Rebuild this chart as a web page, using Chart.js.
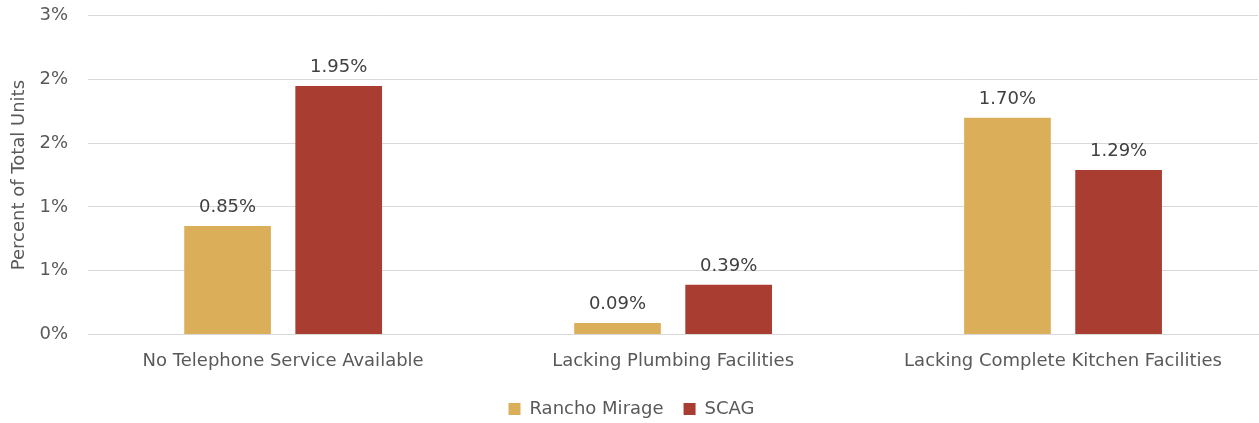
<!DOCTYPE html>
<html>
<head>
<meta charset="utf-8">
<script src="https://cdn.jsdelivr.net/npm/chart.js@4"></script>
<style>
  body { margin: 0; background: #fff; }
  #wrap { width: 1259px; height: 423px; }
</style>
</head>
<body>
<div id="wrap"><canvas id="chart"></canvas></div>
<script>
const categories = ['No Telephone Service Available', 'Lacking Plumbing Facilities', 'Lacking Complete Kitchen Facilities'];
const ranchoMirage = [0.85, 0.09, 1.70];
const scag = [1.95, 0.39, 1.29];
const tickLabels = ['0%', '1%', '1%', '2%', '2%', '3%'];

const textGray = '#595959';
const fontFamily = '"DejaVu Sans", sans-serif';

// draws the value above each bar
const valueLabels = {
  id: 'valueLabels',
  afterDatasetsDraw(chart) {
    const ctx = chart.ctx;
    ctx.save();
    ctx.font = '18px ' + fontFamily;
    ctx.fillStyle = '#404040';
    ctx.textAlign = 'center';
    ctx.textBaseline = 'alphabetic';
    chart.data.datasets.forEach((ds, i) => {
      chart.getDatasetMeta(i).data.forEach((bar, j) => {
        ctx.fillText(ds.data[j].toFixed(2) + '%', bar.x, bar.y - 14);
      });
    });
    ctx.restore();
  }
};

new Chart(document.getElementById('chart'), {
  type: 'bar',
  data: {
    labels: categories,
    datasets: [
      { label: 'Rancho Mirage', data: ranchoMirage, backgroundColor: '#DBAF5A' },
      { label: 'SCAG', data: scag, backgroundColor: '#A93D31' }
    ]
  },
  options: {
    responsive: true,
    maintainAspectRatio: false,
    animation: false,
    categoryPercentage: 0.57,
    barPercentage: 0.78,
    layout: { padding: { top: 0, right: 1, left: 5, bottom: -5 } },
    scales: {
      x: {
        grid: { display: false },
        border: { color: '#d9d9d9' },
        ticks: { color: textGray, font: { size: 18, family: fontFamily }, padding: 8 }
      },
      y: {
        min: 0,
        max: 2.5,
        ticks: {
          stepSize: 0.5,
          color: textGray,
          font: { size: 18, family: fontFamily },
          padding: 5,
          callback: (v, i) => tickLabels[i]
        },
        grid: { color: '#d9d9d9', tickColor: 'rgba(0,0,0,0)', tickLength: 15 },
        border: { display: false },
        title: {
          display: true,
          text: 'Percent of Total Units',
          color: textGray,
          font: { size: 18, family: fontFamily },
          padding: { bottom: 4 }
        }
      }
    },
    plugins: {
      legend: {
        position: 'bottom',
        labels: {
          color: textGray,
          font: { size: 18, family: fontFamily },
          boxWidth: 12,
          boxHeight: 12,
          padding: 20
        }
      },
      tooltip: { enabled: false }
    }
  },
  plugins: [valueLabels]
});
</script>
</body>
</html>
